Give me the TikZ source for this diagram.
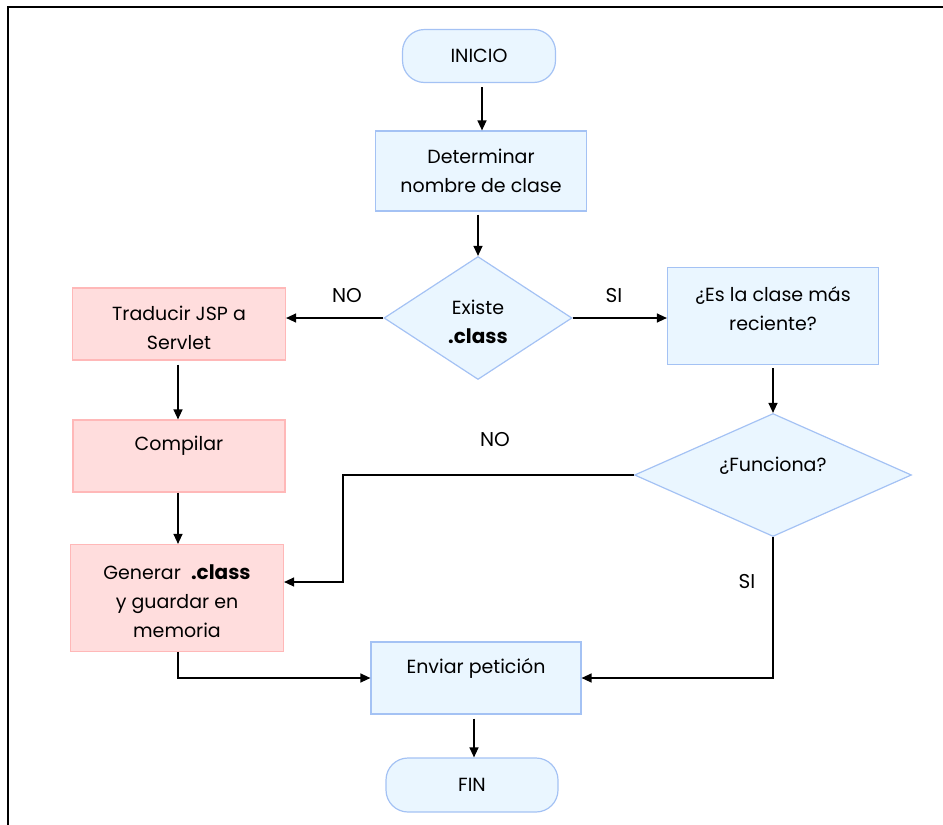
\documentclass[tikz,border=0pt]{standalone}
\usepackage{fontspec}
\setmainfont{Poppins}
\usetikzlibrary{shapes.geometric,arrows.meta}
\definecolor{bfill}{HTML}{EAF6FF}
\definecolor{bline}{HTML}{A4C2F4}
\definecolor{pfill}{HTML}{FFDDDD}
\definecolor{pline}{HTML}{FFB8B8}
\tikzset{
  base/.style={font=\fontsize{19}{29}\selectfont, align=center, inner sep=0pt, line width=1.2pt},
  term/.style={base, draw=bline, fill=bfill, rounded corners=22pt},
  bluebox/.style={base, draw=bline, fill=bfill},
  pinkbox/.style={base, draw=pline, fill=pfill},
  decision/.style={base, draw=bline, fill=bfill, diamond, aspect=1.5},
  flow/.style={line width=1.3pt, -{Triangle[length=10pt,width=9pt]}},
  lbl/.style={font=\fontsize{20}{24}\selectfont}
}
\newcommand{\clsname}{{\fontsize{20}{29}\selectfont\bfseries .class}}
\begin{document}
\begin{tikzpicture}[x=1pt,y=-1pt]
\useasboundingbox (0,0) rectangle (943,825);
% outer frame (top and left edges)
\draw[line width=1.6pt] (943,7) -- (8,7) -- (8,825);

% process nodes
\node[term, minimum width=153pt, minimum height=53pt] (start) at (479,56) {INICIO};
\node[bluebox, minimum width=211pt, minimum height=80pt] (name) at (481,171) {Determinar\\nombre de clase};
\node[decision, minimum width=188pt, minimum height=123pt] (exists) at (478,318) {};
\node[base] (existsTxt) at (478,322) {Existe\\\clsname};
\node[pinkbox, minimum width=213pt, minimum height=72pt] (trans) at (179,324) {};
\node[base] (transTxt) at (179,328) {Traducir JSP a\\Servlet};
\node[bluebox, minimum width=211pt, minimum height=97pt] (recent) at (773,316) {};
\node[base] (recentTxt) at (773,309) {¿Es la clase más\\reciente?};
\node[decision, minimum width=277pt, minimum height=123pt] (works) at (773,475) {};
\node[base] (worksTxt) at (773,466) {¿Funciona?};
\node[pinkbox, minimum width=212pt, minimum height=72pt] (comp) at (179,456) {};
\node[base] (compTxt) at (179,446) {Compilar};
\node[pinkbox, minimum width=213pt, minimum height=107pt] (gen) at (177,598) {};
\node[base] (genTxt) at (177,601) {Generar \ \clsname\\y guardar en\\memoria};
\node[bluebox, minimum width=210pt, minimum height=72pt] (send) at (476,678) {};
\node[base] (sendTxt) at (476,668) {Enviar petición};
\node[term, minimum width=172pt, minimum height=54pt] (end) at (472,785) {FIN};

% bend points
\coordinate (noTurn) at (343,475);
\coordinate (noDown) at (343,582);
\coordinate (siTurn) at (773,678);
\coordinate (genTurn) at (178,678);

% connectors
\draw[flow] ([yshift=-4pt]start.south -| 482,0) -- (name.north -| 482,0);
\draw[flow] ([yshift=-3pt]name.south -| exists.north) -- (exists.north);
\draw[flow] (exists.west) -- (exists.west -| trans.east);
\draw[flow] (exists.east) -- (exists.east -| recent.west);
\draw[flow] ([yshift=-3pt]recent.south -| works.north) -- (works.north);
\draw[flow] ([yshift=-4pt]trans.south -| 178,0) -- (comp.north -| 178,0);
\draw[flow] (comp.south -| 178,0) -- (gen.north -| 178,0);
\draw[flow] (works.west) -- (noTurn) -- (noDown) -- (noDown -| gen.east);
\draw[flow] (works.south) -- (siTurn) -- (send.east);
\draw[flow] (gen.south -| genTurn) -- (genTurn) -- (send.west);
\draw[flow] ([yshift=-4pt]send.south -| 474,0) -- (end.north -| 474,0);

% branch labels
\node[lbl] (noA) at (347,296) {NO};
\node[lbl] (siA) at (614,296) {SI};
\node[lbl] (noB) at (495,440) {NO};
\node[lbl] (siB) at (747,582) {SI};
\end{tikzpicture}
\end{document}
